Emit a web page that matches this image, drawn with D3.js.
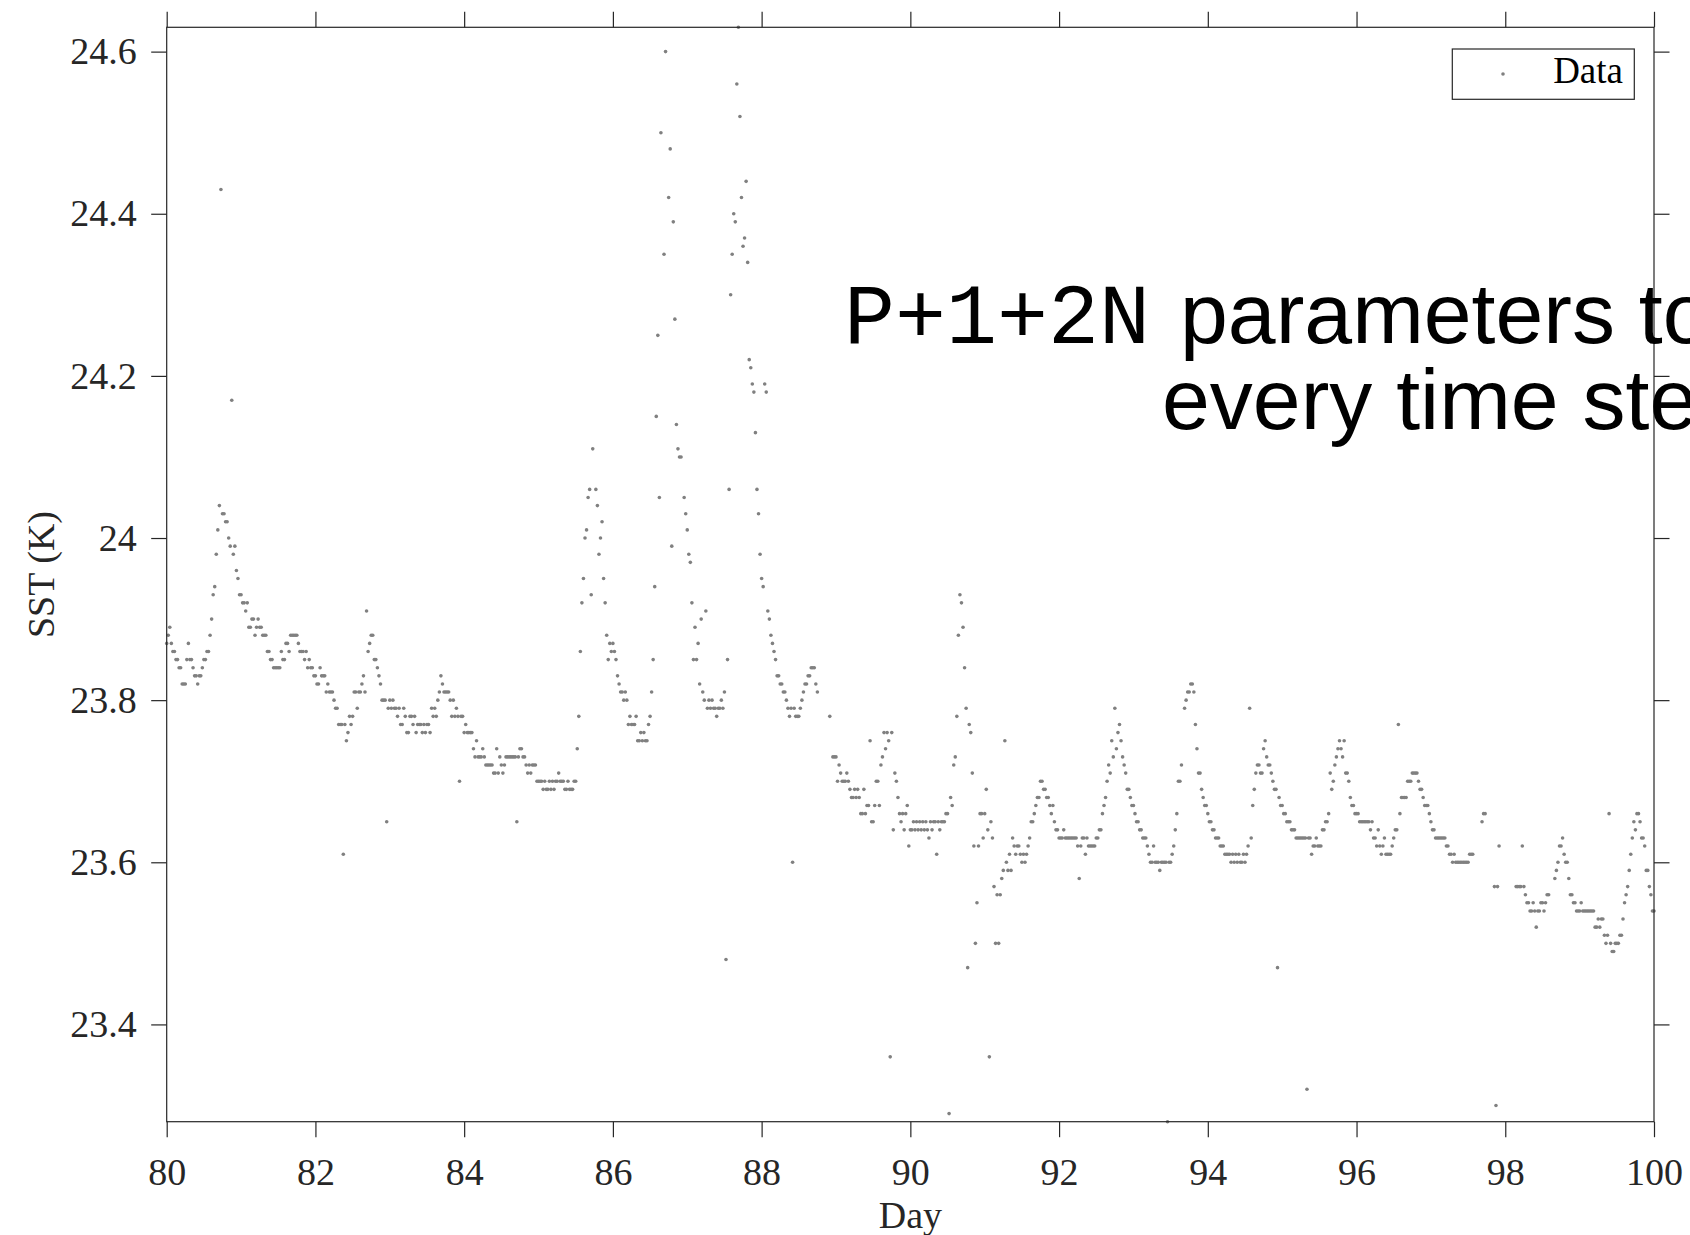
<!DOCTYPE html>
<html>
<head>
<meta charset="utf-8">
<script src="https://cdn.jsdelivr.net/npm/d3@7"></script>
<style>
  html, body { margin: 0; padding: 0; background: #fff; }
  svg { display: block; }
</style>
</head>
<body>
<svg id="chart" width="1690" height="1235"></svg>
<script>
// Sea-surface temperature, half-hourly samples (48 per day), days 80-100.
// null marks a missing sample.
const sst80 = [23.87,23.88,23.89,23.87,23.86,23.86,23.85,23.85,23.84,23.84,23.82,23.82,23.82,23.85,23.87,23.85,23.85,23.84,23.83,23.83,23.82,23.83,23.83,23.84,23.85,23.85,23.86,23.86,23.88,23.90,23.93,23.94,23.98,24.01,24.04,24.43,24.03,24.03,24.02,24.02,24.00,23.99,24.17,23.98,23.99,23.96,23.95,23.93];
const sst81 = [23.93,23.92,23.92,23.91,23.92,23.89,23.89,23.90,23.90,23.88,23.89,23.90,23.89,23.89,23.88,23.88,23.88,23.86,23.86,23.85,23.85,23.84,23.84,23.84,23.84,23.84,23.86,23.85,23.85,23.87,23.87,23.86,23.88,23.88,23.88,23.88,23.88,23.87,23.86,23.86,23.86,23.85,23.86,23.84,23.85,23.84,23.84,23.83];
const sst82 = [23.83,23.82,23.82,23.84,23.83,23.83,23.83,23.81,23.82,23.81,23.81,23.81,23.80,23.79,23.79,23.77,23.77,23.77,23.61,23.77,23.75,23.76,23.78,23.77,23.78,23.81,23.81,23.79,23.81,23.81,23.82,23.83,23.81,23.91,23.86,23.87,23.88,23.88,23.85,23.85,23.84,23.83,23.82,23.80,23.80,23.80,23.65,23.79];
const sst83 = [23.80,23.79,23.80,23.79,23.79,23.78,23.79,23.77,23.77,23.79,23.78,23.76,23.76,23.78,23.78,23.77,23.78,23.76,23.77,23.77,23.77,23.76,23.77,23.76,23.77,23.77,23.76,23.79,23.78,23.79,23.78,23.80,23.81,23.83,23.82,23.81,23.81,23.81,23.81,23.80,23.78,23.80,23.78,23.79,23.78,23.70,23.78,23.78];
const sst84 = [23.76,23.77,23.76,23.76,23.76,23.76,23.74,23.73,23.75,23.73,23.73,23.73,23.74,23.73,23.72,23.72,23.72,23.72,23.72,23.71,23.71,23.74,23.71,23.73,23.72,23.71,23.72,23.73,23.73,23.73,23.73,23.73,23.73,23.73,23.65,23.73,23.74,23.74,23.73,23.73,23.72,23.71,23.72,23.71,23.72,23.72,23.72,23.70];
const sst85 = [23.70,23.70,23.70,23.69,23.70,23.69,23.69,23.70,23.69,23.70,23.69,23.70,23.70,23.71,23.70,23.70,23.70,23.69,23.69,23.70,23.69,23.69,23.69,23.70,23.70,23.74,23.78,23.86,23.92,23.95,24.00,24.01,24.05,24.06,23.93,24.11,null,24.06,24.04,23.98,24.00,24.02,23.95,23.92,23.88,23.85,23.87,23.86];
const sst86 = [23.87,23.86,23.85,23.83,23.82,23.81,23.81,23.80,23.81,23.80,23.77,23.78,23.77,23.77,23.77,23.78,23.75,23.75,23.76,23.75,23.76,23.75,23.75,23.77,23.78,23.81,23.85,23.94,24.15,24.25,24.05,24.50,null,24.35,24.60,null,24.42,24.48,23.99,24.39,24.27,24.14,24.11,24.10,24.10,null,24.05,24.03];
const sst87 = [24.01,23.98,23.97,23.92,23.85,23.89,23.85,23.87,23.82,23.90,23.81,23.80,23.91,23.79,23.80,23.79,23.80,23.79,23.79,23.78,23.79,23.79,23.80,23.79,23.81,23.48,23.85,24.06,24.30,24.35,24.40,24.39,24.56,24.63,24.52,24.42,24.36,24.37,24.44,24.34,24.22,24.21,24.19,24.18,24.13,24.06,24.03,23.98];
const sst88 = [23.95,23.94,24.19,24.18,23.91,23.90,23.88,23.87,23.86,23.85,23.83,23.83,23.82,23.82,23.81,23.81,23.80,23.79,23.78,23.79,23.60,23.79,23.78,23.78,23.78,23.79,23.80,23.81,23.82,23.82,23.83,23.83,23.84,23.84,23.84,23.82,23.81,null,null,null,null,null,null,null,23.78,null,23.73,23.73];
const sst89 = [23.73,23.70,23.72,23.71,23.70,23.70,23.70,23.71,23.70,23.69,23.68,23.68,23.69,23.68,23.69,23.68,23.66,23.66,23.69,23.66,23.67,23.67,23.75,23.65,23.65,23.67,23.70,23.70,23.67,23.72,23.73,23.76,23.74,23.76,23.75,23.36,23.76,23.64,23.71,23.70,23.68,23.66,23.65,23.66,23.64,23.66,23.67,23.62];
const sst90 = [23.64,23.64,23.65,23.64,23.65,23.64,23.65,23.64,23.65,23.64,23.65,23.64,23.63,23.65,23.64,23.65,23.65,23.61,23.65,23.64,23.65,23.65,23.65,23.66,23.66,23.29,23.68,23.67,23.72,23.73,23.78,23.88,23.93,23.92,23.89,23.84,23.79,23.47,23.77,23.76,23.71,23.62,23.50,23.55,23.62,23.66,23.66,23.63];
const sst91 = [23.66,23.69,23.64,23.36,23.65,23.63,23.57,23.50,23.56,23.50,23.56,23.58,23.59,23.75,23.60,23.59,23.61,23.59,23.63,23.62,23.61,23.62,23.62,23.61,23.60,23.61,23.60,23.61,23.62,23.63,23.65,23.65,23.66,23.67,23.68,23.68,23.70,23.70,23.69,23.69,23.68,23.68,23.67,23.66,23.67,23.65,23.64,23.64];
const sst92 = [23.63,23.63,23.63,23.64,23.63,23.63,23.63,23.63,23.63,23.63,23.63,23.63,23.62,23.58,23.62,23.63,23.63,23.61,23.63,23.62,23.62,23.62,23.62,23.62,23.63,23.63,23.64,23.64,23.66,23.67,23.68,23.70,23.72,23.71,23.75,23.73,23.79,23.74,23.76,23.77,23.75,23.73,23.72,23.71,23.69,23.69,23.68,23.67];
const sst93 = [23.67,23.66,23.65,23.65,23.64,23.64,23.63,23.63,23.63,23.62,23.61,23.60,23.60,23.62,23.60,23.60,23.60,23.59,23.60,23.60,23.60,23.60,23.28,23.60,23.60,23.61,23.62,23.64,23.66,23.70,23.70,23.72,null,23.79,23.80,23.81,23.81,23.82,23.82,23.81,23.77,23.74,23.71,23.71,23.69,23.68,23.67,23.67];
const sst94 = [23.66,23.65,23.65,23.64,23.64,23.63,23.63,23.63,23.62,23.62,23.62,23.61,23.61,23.61,23.61,23.60,23.61,23.60,23.61,23.60,23.61,23.60,23.60,23.61,23.60,23.61,23.62,23.79,23.63,23.67,23.69,23.71,23.72,23.72,23.71,23.71,23.74,23.75,23.73,23.72,23.72,23.71,23.70,23.69,23.69,23.47,23.68,23.67];
const sst95 = [23.67,23.66,23.66,23.65,23.65,23.65,23.64,23.64,23.64,23.63,23.63,23.63,23.63,23.63,23.63,23.63,23.32,23.63,23.63,23.61,23.62,23.62,23.63,23.62,23.62,23.62,23.64,23.64,23.65,23.65,23.66,23.71,23.69,23.70,23.72,23.73,23.74,23.75,23.74,23.73,23.75,23.71,23.71,23.70,23.68,23.67,23.67,23.66];
const sst96 = [23.66,23.66,23.65,23.65,23.65,23.65,23.65,23.65,23.65,23.64,23.65,23.63,23.63,23.62,23.64,23.62,23.61,23.62,23.63,23.61,23.61,23.61,23.61,23.62,23.63,23.64,23.64,23.77,23.66,23.68,23.68,23.68,23.68,23.70,23.70,23.70,23.71,23.71,23.71,23.71,23.70,23.69,23.69,23.68,23.67,23.67,23.67,23.66];
const sst97 = [23.65,23.64,23.64,23.63,23.63,23.63,23.63,23.63,23.63,23.63,23.62,23.62,23.61,23.61,23.60,23.61,23.60,23.60,23.60,23.60,23.60,23.60,23.60,23.60,23.60,23.61,23.61,23.61,null,null,null,null,null,23.65,23.66,23.66,null,null,null,null,null,23.57,23.30,23.57,23.62,null,null,null];
const sst98 = [null,null,null,null,null,null,null,23.57,23.57,23.57,23.57,23.62,23.57,23.56,23.55,23.55,23.54,23.54,23.55,23.54,23.52,23.54,23.54,23.55,23.55,23.54,23.55,23.56,23.56,null,null,null,23.58,23.59,23.60,23.62,23.62,23.63,23.61,23.60,23.60,23.58,23.56,23.56,23.55,23.55,23.54,23.54];
const sst99 = [23.54,23.55,23.54,23.54,23.54,23.54,23.54,23.54,23.54,23.54,23.52,23.52,23.53,23.52,23.53,23.53,23.51,23.50,23.51,23.66,23.50,23.49,23.49,23.50,23.50,23.50,23.51,23.51,23.53,23.55,23.56,23.57,23.59,23.61,23.63,23.65,23.64,23.66,23.66,23.65,23.63,23.63,23.62,23.59,23.59,23.57,23.56,23.54];
const sst100 = [23.54];

const firstDay = 80;
const samplesPerDay = 48;
const xTicks = [80, 82, 84, 86, 88, 90, 92, 94, 96, 98, 100];
const yTicks = [23.4, 23.6, 23.8, 24.0, 24.2, 24.4, 24.6];
const xLabel = "Day";
const yLabel = "SST (K)";
const legendLabel = "Data";

const sstSeries = [sst80, sst81, sst82, sst83, sst84, sst85, sst86, sst87, sst88, sst89,
                   sst90, sst91, sst92, sst93, sst94, sst95, sst96, sst97, sst98, sst99, sst100].flat();

const points = sstSeries
  .map((v, i) => ({ day: firstDay + i / samplesPerDay, sst: v }))
  .filter(d => d.sst !== null);

const svg = d3.select("#chart");
const W = 1690, H = 1235;
const plot = { left: 166.7, right: 1654, top: 27.3, bottom: 1121.7 };
const ink = "#262626";
const serif = "'Liberation Serif', 'Times New Roman', serif";
const tickLen = 15.5;

svg.append("rect").attr("width", W).attr("height", H).attr("fill", "#fff");

const x = d3.scaleLinear().domain([80, 100]).range([plot.left, plot.right]);
const y = d3.scaleLinear().domain(d3.extent(points, d => d.sst)).range([plot.bottom, plot.top]);

// points
svg.append("g")
  .selectAll("circle")
  .data(points)
  .join("circle")
  .attr("cx", d => x(d.day))
  .attr("cy", d => y(d.sst))
  .attr("r", 1.8)
  .attr("fill", "#808080");

function styleAxis(g) {
  g.select(".domain").remove();
  g.selectAll(".tick line").attr("stroke", ink).attr("stroke-width", 1.2);
  g.selectAll(".tick text")
    .attr("fill", ink)
    .style("font-family", serif)
    .style("font-size", "38px");
}

const yFmt = d3.format(".1~f");

svg.append("g")
  .attr("transform", `translate(0,${plot.bottom})`)
  .call(d3.axisBottom(x).tickValues(xTicks).tickFormat(d3.format("d"))
    .tickSize(tickLen).tickSizeOuter(0).tickPadding(21))
  .call(styleAxis);

svg.append("g")
  .attr("transform", `translate(0,${plot.top})`)
  .call(d3.axisTop(x).tickValues(xTicks).tickFormat("")
    .tickSize(tickLen).tickSizeOuter(0))
  .call(styleAxis);

svg.append("g")
  .attr("transform", `translate(${plot.left},0)`)
  .call(d3.axisLeft(y).tickValues(yTicks).tickFormat(yFmt)
    .tickSize(tickLen).tickSizeOuter(0).tickPadding(14.5))
  .call(styleAxis);

svg.append("g")
  .attr("transform", `translate(${plot.right},0)`)
  .call(d3.axisRight(y).tickValues(yTicks).tickFormat("")
    .tickSize(tickLen).tickSizeOuter(0))
  .call(styleAxis);

// box
svg.append("rect")
  .attr("x", plot.left).attr("y", plot.top)
  .attr("width", plot.right - plot.left).attr("height", plot.bottom - plot.top)
  .attr("fill", "none").attr("stroke", ink).attr("stroke-width", 1.2);

// axis titles
svg.append("text")
  .attr("x", (plot.left + plot.right) / 2).attr("y", 1228)
  .attr("text-anchor", "middle")
  .attr("fill", ink)
  .style("font-family", serif).style("font-size", "38px")
  .text(xLabel);

svg.append("text")
  .attr("transform", `translate(54,${(plot.top + plot.bottom) / 2}) rotate(-90)`)
  .attr("text-anchor", "middle")
  .attr("fill", ink)
  .style("font-family", serif).style("font-size", "38px")
  .text(yLabel);

// legend
const legend = svg.append("g");
legend.append("rect")
  .attr("x", 1452.3).attr("y", 49).attr("width", 182).attr("height", 50.3)
  .attr("fill", "#fff").attr("stroke", ink).attr("stroke-width", 1.2);
legend.append("circle").attr("cx", 1503).attr("cy", 74).attr("r", 1.8).attr("fill", "#808080");
legend.append("text")
  .attr("x", 1623).attr("y", 83).attr("text-anchor", "end")
  .attr("fill", "#000")
  .style("font-family", serif).style("font-size", "37px")
  .text(legendLabel);

// annotation
svg.append("text")
  .attr("x", 844).attr("y", 343)
  .attr("fill", "#000")
  .style("font-family", "'Liberation Mono', 'Courier New', monospace")
  .style("font-size", "85px")
  .text("P+1+2N");
svg.append("text")
  .attr("x", 1180).attr("y", 343)
  .attr("fill", "#000")
  .style("font-family", "'Liberation Sans', Arial, sans-serif")
  .style("font-size", "86px")
  .text("parameters to");
svg.append("text")
  .attr("x", 1162).attr("y", 429)
  .attr("fill", "#000")
  .style("font-family", "'Liberation Sans', Arial, sans-serif")
  .style("font-size", "86px")
  .text("every time step");
</script>
</body>
</html>
